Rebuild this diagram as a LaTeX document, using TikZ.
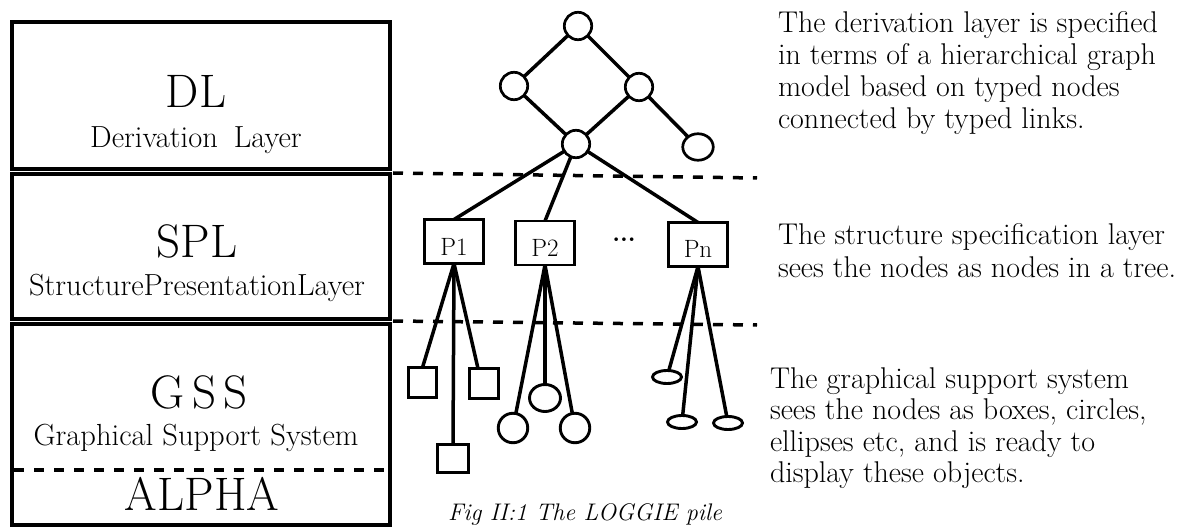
\documentclass[tikz,border=0pt]{standalone}
\usepackage{fontspec}
\usetikzlibrary{shapes.geometric}
\tikzset{
  every node/.style={inner sep=0pt, outer sep=0pt},
  layerbox/.style={draw, line width=3.2},
  sepline/.style={line width=3.5, dash pattern=on 10 off 10},
  gnode/.style={circle, draw, line width=2.7, minimum size=27.4},
  link/.style={line width=3.5},
  pbox/.style={draw, line width=2.9, minimum width=59, minimum height=44, text height=27, text depth=0, font=\fontsize{25}{25}\selectfont},
  sq/.style={draw, line width=2.9},
  bub/.style={circle, draw, line width=2.9, minimum size=29.5},
  oval/.style={ellipse, draw, line width=2.9, minimum width=29, minimum height=13},
  big/.style={anchor=base, font=\fontsize{47}{47}\selectfont},
  sub/.style={anchor=base, font=\fontsize{30.5}{30.5}\selectfont},
  desc/.style={anchor=base west, font=\fontsize{30}{30}\selectfont},
}
\begin{document}
\begin{tikzpicture}[x=1pt, y=-1pt]
\useasboundingbox (0,0) rectangle (1180,529);

% layer stack
\draw[layerbox] (12,22) rectangle (390,169);
\draw[layerbox] (12,174) rectangle (390,319);
\draw[layerbox] (12,324) rectangle (390,525);
\draw[sepline] (14,470) -- (388,470);

\node[big] (dl) at (196,108) {DL};
\node[sub] (dlsub) at (196,148) {Derivation\hspace{16pt}Layer};
\node[big] (spl) at (197,258) {SPL};
\node[sub] (splsub) at (197,295) {StructurePresentationLayer};
\node[big] (gss) at (199,408) {G\kern7pt S\kern7pt S};
\node[sub] (gsssub) at (196,445) {Graphical Support System};
\node[big] (alpha) at (202,510) {ALPHA};

% layer separators on the right
\draw[sepline] (393,173) -- (757,178);
\draw[sepline] (393,321) -- (757,325);

% derivation graph
\node[gnode] (top) at (578,26) {};
\node[gnode] (lm) at (514,86) {};
\node[gnode] (rm) at (639,87) {};
\node[gnode] (bot) at (576,144) {};
\node[ellipse, draw, line width=2.7, minimum width=30.5, minimum height=26.5] (fr) at (698,147) {};
\draw[link] (top) -- (lm);
\draw[link] (top) -- (rm);
\draw[link] (lm) -- (bot);
\draw[link] (rm) -- (bot);
\draw[link] (rm) -- (fr);

% structure layer
\node[pbox] (p1) at (454,241.5) {P1};
\node[pbox] (p2) at (545,243) {P2};
\node[pbox] (pn) at (698,244.5) {Pn};
\node[anchor=base, font=\fontsize{25}{25}\selectfont\bfseries] (dots) at (624,242) {...};
\draw[link] (bot) -- (p1.north);
\draw[link] (bot) -- (p2.north);
\draw[link] (bot) -- (pn.north);

% graphical objects
\node[sq, minimum width=28, minimum height=30] (s1) at (422.5,382.5) {};
\node[sq, minimum width=29, minimum height=30] (s2) at (484,383.5) {};
\node[sq, minimum width=31, minimum height=28] (s3) at (453,458.5) {};
\draw[link] (p1.south) -- (s1.north);
\draw[link] (p1.south) -- ([xshift=-6]s2.north);
\draw[link] (p1.south) -- (s3.north);

\node[bub] (c1) at (513,428) {};
\node[ellipse, draw, line width=2.9, minimum width=31, minimum height=27] (c2) at (545,398) {};
\node[bub] (c3) at (575,428) {};
\draw[link] (p2.south) -- (c1);
\draw[link] (p2.south) -- (c2);
\draw[link] (p2.south) -- (c3);

\node[oval] (e1) at (667,377) {};
\node[oval] (e2) at (682,422) {};
\node[oval] (e3) at (728,423) {};
\draw[link] (pn.south) -- (e1);
\draw[link] (pn.south) -- (e2);
\draw[link] (pn.south) -- (e3);

% caption
\node[anchor=base, font=\fontsize{24}{24}\selectfont\itshape] (cap) at (585,520) {Fig II:1 The LOGGIE pile};

% descriptions
\foreach [count=\i] \t in {{The derivation layer is specified},{in terms of a hierarchical graph},{model based on typed nodes},{connected by typed links.}}
  \node[desc] (da\i) at (778,{33+32*(\i-1)}) {\t};
\foreach [count=\i] \t in {{The structure specification layer},{sees the nodes as nodes in a tree.}}
  \node[desc] (db\i) at (778,{245+32*(\i-1)}) {\t};
\foreach [count=\i] \t in {{The graphical support system},{sees the nodes as boxes, circles,},{ellipses etc, and is ready to},{display these objects.}}
  \node[desc] (dc\i) at (770,{388+31.5*(\i-1)}) {\t};
\end{tikzpicture}
\end{document}
